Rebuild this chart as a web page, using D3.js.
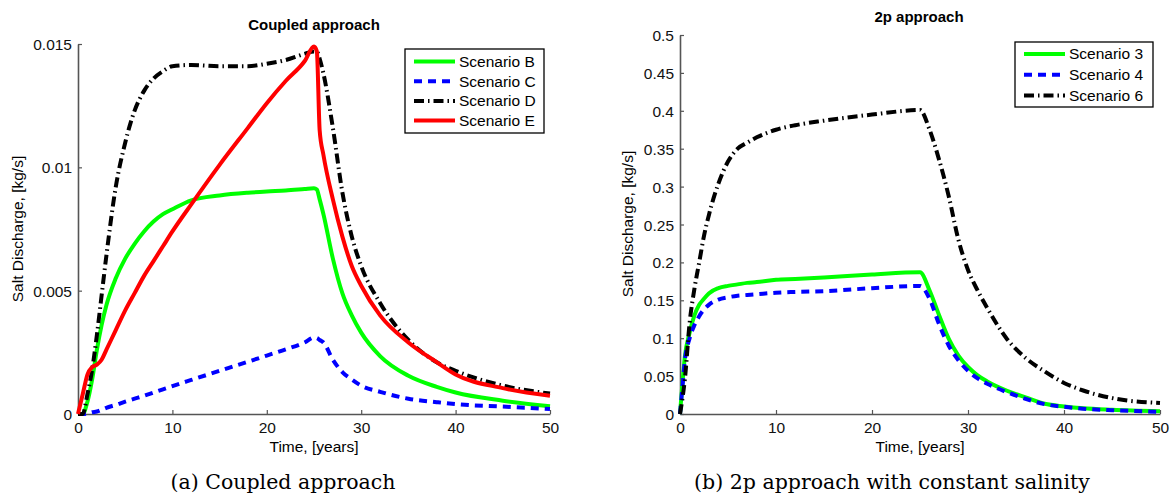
<!DOCTYPE html>
<html>
<head>
<meta charset="utf-8">
<script src="https://cdn.jsdelivr.net/npm/d3@7"></script>
<style>
  body { margin: 0; background: #fff; }
  svg { display: block; }
  .tick text { font-family: "Liberation Sans", Arial, sans-serif; font-size: 15.5px; fill: #111; }
</style>
</head>
<body>
<div id="chart"></div>
<script>
// ---- left panel: coupled approach ----
var timeA = [0,0.5,1,1.5,2,2.5,3,4,5,6,7,8,9,10,12,15,18,20,22,24,25,25.3,25.6,26,27,28,29,30,32,35,38,40,45,50];
var scenB = [0,0,0.0005,0.0014,0.0026,0.0036,0.0044,0.0055,0.0063,0.0069,0.0074,0.0078,0.0081,0.0083,0.00866,0.00886,0.00897,0.00902,0.00906,0.00912,0.00915,0.0091,0.0087,0.0081,0.0063,0.0049,0.0040,0.0033,0.00235,0.00155,0.0011,0.00087,0.00054,0.00031];
var scenC = [0,0,0.00002,0.00007,0.0001,0.00017,0.00025,0.00037,0.0005,0.00062,0.00074,0.00087,0.001,0.00113,0.00138,0.00175,0.00212,0.00237,0.00262,0.0029,0.0031,0.00308,0.003,0.0029,0.0022,0.0017,0.0014,0.00115,0.0009,0.00062,0.00048,0.0004,0.0003,0.0002];
var scenD = [0,0,0.0008,0.0018,0.0032,0.0048,0.0064,0.0092,0.0110,0.0123,0.0131,0.0136,0.0139,0.0141,0.01415,0.0141,0.0141,0.0142,0.01435,0.0146,0.0147,0.0147,0.0144,0.0138,0.0116,0.0090,0.0072,0.0060,0.0045,0.0030,0.0021,0.00175,0.00115,0.00083];
var scenE = [0,0.0008,0.0016,0.0019,0.002,0.0022,0.0026,0.0034,0.0042,0.0049,0.0056,0.0062,0.0068,0.0074,0.0085,0.0101,0.0116,0.0126,0.0135,0.0143,0.0149,0.0147,0.0115,0.0105,0.0087,0.0072,0.0060,0.0052,0.0040,0.0029,0.0021,0.0016,0.00105,0.00074];
var ticksYA = [0, 0.005, 0.01, 0.015];

// ---- right panel: 2p approach ----
var timeB = [0,0.25,0.5,1,1.5,2,2.5,3,4,5,6,7,8,10,12,15,20,25,26,27,28,29,30,31,32,34,36,38,40,42,45,50];
var scen3 = [0,0.04,0.075,0.107,0.13,0.144,0.152,0.159,0.166,0.169,0.171,0.173,0.174,0.177,0.178,0.18,0.184,0.187,0.163,0.13,0.099,0.077,0.062,0.051,0.043,0.031,0.022,0.0135,0.01,0.0075,0.0055,0.0035];
var scen4 = [0,0.035,0.07,0.1,0.117,0.129,0.138,0.144,0.151,0.154,0.156,0.157,0.158,0.16,0.161,0.162,0.166,0.169,0.152,0.118,0.09,0.071,0.057,0.047,0.04,0.029,0.02,0.013,0.0095,0.007,0.005,0.0028];
var scen6 = [0,0.02,0.045,0.12,0.165,0.2,0.235,0.262,0.304,0.333,0.35,0.358,0.365,0.375,0.381,0.387,0.395,0.401,0.375,0.335,0.287,0.23,0.19,0.163,0.14,0.1,0.074,0.056,0.041,0.031,0.021,0.0145];
var ticksYB = [0,0.05,0.1,0.15,0.2,0.25,0.3,0.35,0.4,0.45,0.5];

var ticksX = [0,10,20,30,40,50];

var styles = {
  green: {color: "#00ff00", dash: null, w: 4},
  blue:  {color: "#0000ff", dash: "8,6", w: 4},
  black: {color: "#000000", dash: "10,4,1.5,4", w: 4},
  red:   {color: "#ff0000", dash: null, w: 4}
};

var W = 1175, H = 498;
var svg = d3.select("#chart").append("svg")
    .attr("width", W).attr("height", H);

var font = '"Liberation Sans", Arial, sans-serif';

function panel(opt) {
  var x = d3.scaleLinear().domain([0, 50]).range([opt.x0, opt.x1]);
  var y = d3.scaleLinear().domain(opt.ydom).range([opt.y0, opt.y1]);
  var g = svg.append("g");

  // axes, ticks inward like matlab
  var ax = g.append("g")
      .attr("transform", "translate(0," + opt.y0 + ")")
      .call(d3.axisBottom(x).tickValues(ticksX).tickSizeInner(-4).tickSizeOuter(0).tickPadding(8));
  var ay = g.append("g")
      .attr("transform", "translate(" + opt.x0 + ",0)")
      .call(d3.axisLeft(y).tickValues(opt.yticks).tickFormat(d => String(d)).tickSizeInner(-4).tickSizeOuter(0).tickPadding(6));
  [ax, ay].forEach(a => {
    a.select(".domain").attr("stroke", "#555").attr("stroke-width", 1.6);
    a.selectAll(".tick line").attr("stroke", "#555").attr("stroke-width", 1.2);
  });
  ay.selectAll(".tick text").attr("dy", "0.36em");

  var line = d3.line()
      .x((d, i) => x(opt.time[i]))
      .y(d => y(d))
      .curve(d3.curveMonotoneX);

  opt.series.forEach(s => {
    var st = styles[s.style];
    g.append("path")
        .attr("d", line(s.values))
        .attr("fill", "none")
        .attr("stroke", st.color)
        .attr("stroke-width", st.w)
        .attr("stroke-dasharray", st.dash)
        .attr("stroke-linejoin", "round");
  });

  // title, labels
  g.append("text")
      .attr("x", opt.cx).attr("y", opt.titleY)
      .attr("text-anchor", "middle").attr("dy", "0.35em")
      .attr("font-family", font).attr("font-weight", "bold").attr("font-size", "15px")
      .text(opt.title);
  g.append("text")
      .attr("x", (opt.x0 + opt.x1) / 2).attr("y", 447)
      .attr("text-anchor", "middle").attr("dy", "0.35em")
      .attr("font-family", font).attr("font-size", "15.5px")
      .text("Time, [years]");
  g.append("text")
      .attr("transform", "translate(" + opt.ylabX + "," + opt.ylabY + ") rotate(-90)")
      .attr("text-anchor", "middle").attr("dy", "0.35em")
      .attr("font-family", font).attr("font-size", "15.5px")
      .text("Salt Discharge, [kg/s]");
  g.append("text")
      .attr("x", opt.capX).attr("y", 482)
      .attr("text-anchor", "middle").attr("dy", "0.35em")
      .attr("font-family", '"DejaVu Serif", serif').attr("font-size", "20.5px")
      .text(opt.caption);

  // legend
  var lg = opt.legend;
  g.append("rect")
      .attr("x", lg.x).attr("y", lg.y).attr("width", lg.w).attr("height", lg.h)
      .attr("fill", "#fff").attr("stroke", "#000").attr("stroke-width", 1.3);
  opt.series.forEach((s, i) => {
    var st = styles[s.style];
    var yy = lg.y + lg.top + i * lg.step;
    g.append("line")
        .attr("x1", lg.x + 9).attr("x2", lg.x + 50)
        .attr("y1", yy).attr("y2", yy)
        .attr("stroke", st.color).attr("stroke-width", st.w)
        .attr("stroke-dasharray", st.dash);
    g.append("text")
        .attr("x", lg.x + 54).attr("y", yy).attr("dy", "0.35em")
        .attr("font-family", font).attr("font-size", "15.5px")
        .text(s.name);
  });
}

panel({
  x0: 78, x1: 550, y0: 414, y1: 44, ydom: [0, 0.015], yticks: ticksYA,
  time: timeA, cx: 314, titleY: 25, title: "Coupled approach",
  ylabX: 18, ylabY: 229, capX: 283, caption: "(a) Coupled approach",
  series: [
    {name: "Scenario B", values: scenB, style: "green"},
    {name: "Scenario C", values: scenC, style: "blue"},
    {name: "Scenario D", values: scenD, style: "black"},
    {name: "Scenario E", values: scenE, style: "red"}
  ],
  legend: {x: 405, y: 49, w: 139, h: 84, top: 12.5, step: 19.7}
});

panel({
  x0: 680, x1: 1160, y0: 414, y1: 35, ydom: [0, 0.5], yticks: ticksYB,
  time: timeB, cx: 919, titleY: 17, title: "2p approach",
  ylabX: 628, ylabY: 224, capX: 892, caption: "(b) 2p approach with constant salinity",
  series: [
    {name: "Scenario 3", values: scen3, style: "green"},
    {name: "Scenario 4", values: scen4, style: "blue"},
    {name: "Scenario 6", values: scen6, style: "black"}
  ],
  legend: {x: 1015, y: 42, w: 138, h: 65, top: 12, step: 20.7}
});
</script>
</body>
</html>
